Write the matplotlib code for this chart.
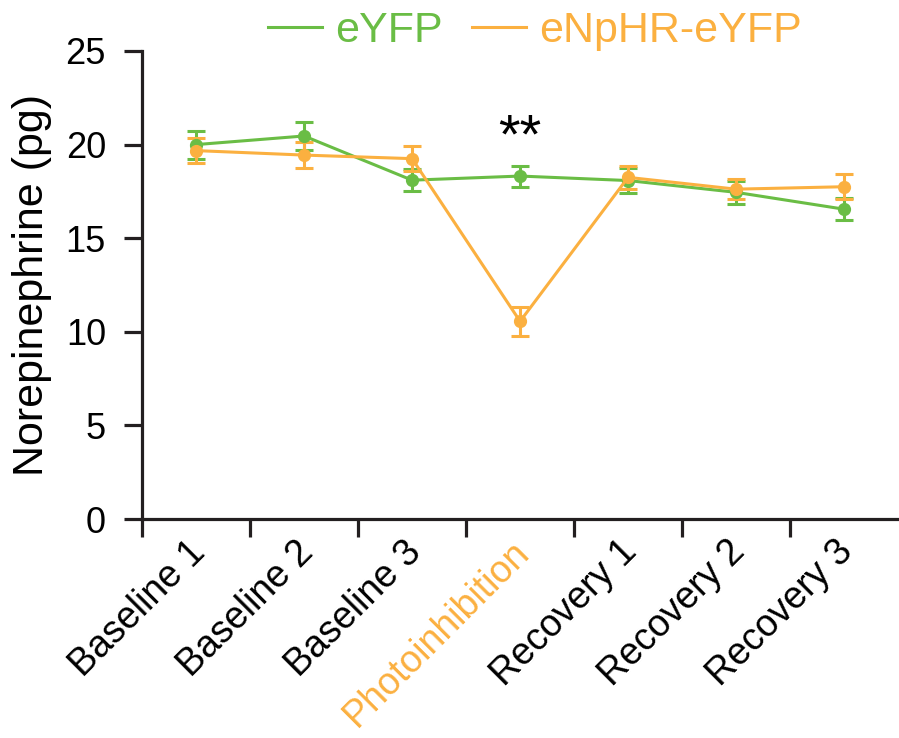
import matplotlib
matplotlib.use("Agg")
import matplotlib.pyplot as plt
import numpy as np

plt.rcParams['font.family'] = ['Liberation Sans', 'DejaVu Sans']

categories = ["Baseline 1", "Baseline 2", "Baseline 3", "Photoinhibition",
              "Recovery 1", "Recovery 2", "Recovery 3"]
eyfp_mean = [20.0, 20.46, 18.1, 18.32, 18.08, 17.45, 16.55]
eyfp_err = [0.75, 0.76, 0.6, 0.56, 0.68, 0.62, 0.58]
enphr_mean = [19.68, 19.44, 19.25, 10.56, 18.25, 17.62, 17.75]
enphr_err = [0.66, 0.68, 0.67, 0.77, 0.6, 0.55, 0.68]
yticks = [0, 5, 10, 15, 20, 25]

green = "#6abd45"
orange = "#fbb040"
dark = "#231f20"

fig = plt.figure(figsize=(8.99, 7.38), dpi=100)
ax = fig.add_axes([0.158, 0.2967, 0.841, 0.6342])

x = np.arange(len(categories))
lw = 2.2
for mean, err, col, lab in [(eyfp_mean, eyfp_err, green, "eYFP"),
                            (enphr_mean, enphr_err, orange, "eNpHR-eYFP")]:
    ax.errorbar(x, mean, yerr=err, color=col, lw=lw, marker='o', ms=8.5,
                capsize=6.8, capthick=lw, elinewidth=lw, label=lab, clip_on=False)

ax.set_xlim(-0.5, 6.5)
ax.set_ylim(0, 25)
ax.set_yticks(yticks)
ax.set_yticklabels([str(v) for v in yticks])
for s in ['top', 'right']:
    ax.spines[s].set_visible(False)
for s in ['left', 'bottom']:
    ax.spines[s].set_linewidth(2.3)
    ax.spines[s].set_color(dark)

ax.tick_params(axis='y', length=13, width=2.3, labelsize=26, pad=13, color=dark)
ax.set_xticks(x + 0.1)
ax.set_xticklabels(categories, rotation=45, ha='right', va='baseline',
                   rotation_mode='anchor', fontsize=27)
ax.tick_params(axis='x', which='major', length=0, pad=25)
ax.set_xticks(np.arange(-0.5, 6.0, 1.0), minor=True)
ax.tick_params(axis='x', which='minor', length=13, width=2.3, color=dark)
for t in ax.get_xticklabels():
    if t.get_text() == "Photoinhibition":
        t.set_color(orange)

ax.set_ylabel("Norepinephrine (pg)", fontsize=31, labelpad=10)

ax.text(3, 20.35, "**", ha='center', va='center', fontsize=40)

handles = [plt.Line2D([], [], color=green, lw=lw), plt.Line2D([], [], color=orange, lw=lw)]
leg = fig.legend(handles, ["eYFP", "eNpHR-eYFP"], loc='upper center',
                 bbox_to_anchor=(0.595, 1.038), ncol=2, frameon=False, fontsize=31,
                 handlelength=1.25, handletextpad=0.3, columnspacing=0.7)
for t, c in zip(leg.get_texts(), [green, orange]):
    t.set_color(c)

fig.savefig("out.png", dpi=100)
